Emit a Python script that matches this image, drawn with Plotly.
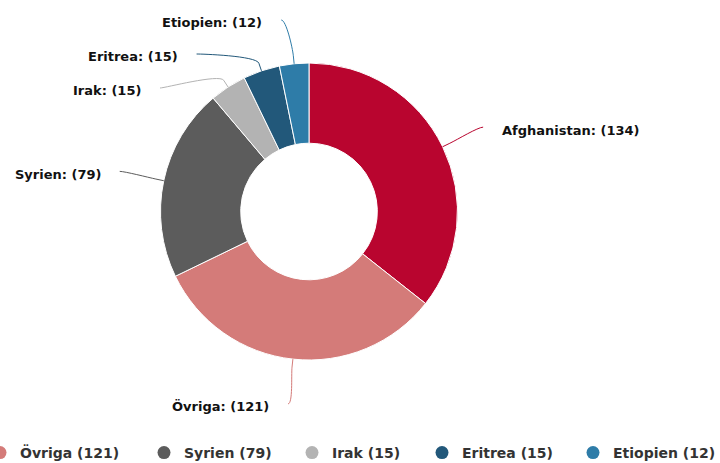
import math
import plotly.graph_objects as go

# ---- data ----
categories = ["Afghanistan", "Övriga", "Syrien", "Irak", "Eritrea", "Etiopien"]
values = [134, 121, 79, 15, 15, 12]
colors = ["#b9052f", "#d47b79", "#5c5c5c", "#b3b3b3", "#22587a", "#2e7ca8"]

# ---- layout constants (pixels) ----
W, H = 720, 463
CX, CY, R = 309, 211.5, 148.5
HOLE = 0.46
LABEL_R = 193.5
TOP_LIMIT = 20
LABEL_GAP = 34
TEXT_PAD = 17
FONT = "DejaVu Sans"
# legend item text start positions (px); first entry sits beyond the left edge
LEGEND_TEXT_X = [None, 20, 184, 332, 462, 613]
LEGEND_Y = 453


def px(x):
    return x / W


def py(y):
    return 1 - y / H


fig = go.Figure()

fig.add_trace(go.Pie(
    labels=categories,
    values=values,
    sort=False,
    direction="clockwise",
    rotation=0,
    hole=HOLE,
    textinfo="none",
    marker=dict(colors=colors, line=dict(color="white", width=1)),
    domain=dict(x=[px(CX - R), px(CX + R)], y=[py(CY + R), py(CY - R)]),
    showlegend=False,
    hovertemplate="%{label}: %{value}<extra></extra>",
))

# legend entries (circle symbols) built from the data, one legend box each
legend_layouts = {}
for i, (cat, val, col) in enumerate(zip(categories, values, colors)):
    key = "legend" if i == 0 else f"legend{i + 1}"
    fig.add_trace(go.Scatter(
        x=[None], y=[None], mode="markers",
        marker=dict(symbol="circle", size=13, color=col),
        name=f"{cat} ({val})", showlegend=True, hoverinfo="skip",
        legend=key,
    ))
    tx = LEGEND_TEXT_X[i]
    if tx is None:
        lx, anchor = (LEGEND_TEXT_X[1] - 40 - 5), "right"
    else:
        lx, anchor = tx - 40, "left"
    legend_layouts[key] = dict(
        orientation="h", x=px(lx), xanchor=anchor,
        y=py(LEGEND_Y), yanchor="middle",
        font=dict(family=FONT, size=14, color="#333333", weight="bold"),
        bgcolor="rgba(0,0,0,0)", borderwidth=0,
    )

# ---- data labels with connectors ----
total = sum(values)
items = []
cum = 0
for cat, val, col in zip(categories, values, colors):
    mid = (cum + val / 2) / total * 2 * math.pi
    cum += val
    s, c = math.sin(mid), math.cos(mid)
    items.append(dict(cat=cat, val=val, col=col, s=s, c=c,
                      ny=CY - LABEL_R * c, left=s < 0))

for side in (True, False):
    grp = sorted([it for it in items if it["left"] == side], key=lambda d: d["ny"])
    prev = None
    for it in grp:
        y = max(it["ny"], TOP_LIMIT)
        if prev is not None:
            y = max(y, prev + LABEL_GAP)
        it["y"] = y
        prev = y
    for it in grp:
        dy = it["y"] - CY
        dx = math.sqrt(max(LABEL_R ** 2 - dy ** 2, 0))
        it["x"] = CX - dx if side else CX + dx

shapes = []
annotations = []
for it in items:
    lx, ly = it["x"], it["y"]
    tx, ty = CX + R * it["s"], CY - R * it["c"]
    bx, by = CX + (R + 8) * it["s"], CY - (R + 8) * it["c"]
    c1x = lx + (5 if it["left"] else -5)
    c2x, c2y = 2 * bx - tx, 2 * by - ty
    path = (f"M {px(lx)},{py(ly)} C {px(c1x)},{py(ly)} {px(c2x)},{py(c2y)} {px(bx)},{py(by)} "
            f"L {px(tx)},{py(ty)}")
    shapes.append(dict(type="path", path=path, xref="paper", yref="paper",
                       line=dict(color=it["col"], width=1)))
    annotations.append(dict(
        x=px(lx - TEXT_PAD if it["left"] else lx + TEXT_PAD), y=py(ly + 3),
        xref="paper", yref="paper",
        xanchor="right" if it["left"] else "left", yanchor="middle",
        text=f"{it['cat']}: ({it['val']})", showarrow=False,
        font=dict(family=FONT, size=13, color="#111111", weight="bold"),
    ))

fig.update_layout(
    width=W, height=H,
    margin=dict(l=0, r=0, t=0, b=0, autoexpand=False),
    paper_bgcolor="white", plot_bgcolor="white",
    xaxis=dict(visible=False), yaxis=dict(visible=False),
    shapes=shapes, annotations=annotations,
    showlegend=True,
    **legend_layouts,
)

fig.write_html("out.html",
               config={"displayModeBar": False},
               post_script="document.body.style.margin='0';document.body.style.overflow='hidden';")
